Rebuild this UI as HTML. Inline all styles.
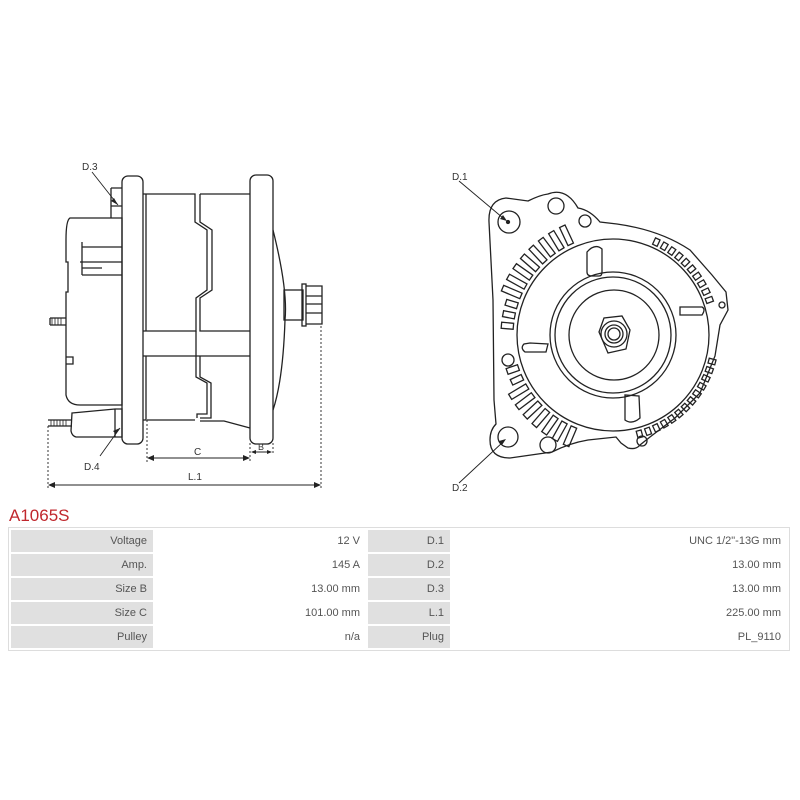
<!DOCTYPE html>
<html><head><meta charset="utf-8"><style>
body{margin:0;width:800px;height:800px;background:#fff;font-family:"Liberation Sans","DejaVu Sans",sans-serif;position:relative;overflow:hidden}
svg{position:absolute;left:0;top:0}
.t{position:absolute;left:9px;top:506px;color:#c0272d;font-size:17px}
table{position:absolute;left:8px;top:527px;width:782px;border-collapse:separate;border-spacing:2px;border:1px solid #ddd;font-size:11px;color:#555}
td{height:22px;padding:0 6px;text-align:right}
td.l{background:#e0e0e0}
td.v{background:#fff}
</style></head><body>
<svg width="800" height="500" viewBox="0 0 800 500" fill="none" stroke="#222" stroke-width="1.3">
<g>
<path d="M70 218 Q66 220 66 240 L66 262 L68 262 L68 292 L66 292 L66 395 Q68 405 80 405 L122 405 L122 218 Z"/>
<path d="M82 247 L122 247 M80 262 L122 262 M82 262 L82 242 M82 275 L122 275 M82 262 L82 275 M82 268 L102 268"/>
<path d="M66 357 L73 357 L73 364 L66 364"/>
<path d="M111 188 L122 188 M111 188 L111 218 M122 206 L111 206"/>
<rect x="122" y="176" width="21" height="268" rx="6"/>
<rect x="250" y="175" width="23" height="269" rx="6"/>
<path d="M143 194 L195 194 L195 222 L207 230 L207 290 L196 298 L196 331 L143 331 M146 194 L146 331"/>
<path d="M200 194 L250 194 M200 194 L200 222 L212 230 L212 290 L200 298 L200 331 L250 331"/>
<path d="M143 356 L250 356 M146 356 L146 420 L143 420 M196 331 L196 377 L207 383 L207 414 L197 414 L197 418 M200 356 L200 377 L211 383 L211 418 L200 418"/>
<path d="M147 420 L195 420 M200 421 L224 421 L250 428"/>
<path d="M273 230 Q288 290 285 320 Q283 380 273 410"/>
<rect x="284" y="290" width="19" height="30"/>
<rect x="302" y="284" width="4" height="42"/>
<path d="M306 286 L322 286 L322 324 L306 324 M306 296 L322 296 M306 304 L322 304 M306 313 L322 313"/>
<path d="M50 318 L66 318 M50 325 L66 325 M50 318 L50 325" />
<path d="M52 318 L52 325 M55 318 L55 325 M58 318 L58 325 M61 318 L61 325" stroke-width="0.8"/>
<path d="M72 413 L115 409 L122 409 L122 437 L76 437 Q72 436 71 431 Z M115 409 L115 437"/>
<path d="M48 420 L72 420 M48 426 L72 426" />
<path d="M51 420 L51 426 M54 420 L54 426 M57 420 L57 426 M60 420 L60 426 M63 420 L63 426 M66 420 L66 426" stroke-width="0.8"/>
<g stroke-dasharray="2 2" stroke-width="0.9">
<path d="M48 426 L48 488 M147 420 L147 462 M250 443 L250 462 M273 443 L273 455 M321 326 L321 488"/>
</g>
<g stroke-width="0.9">
<path d="M50 485 L319 485 M149 458 L248 458 M252 452 L271 452"/>
</g>
<g fill="#222" stroke="none">
<path d="M48 485 L55 482 L55 488Z M321 485 L314 482 L314 488Z M147 458 L154 455 L154 461Z M250 458 L243 455 L243 461Z M251 452 L256 450 L256 454Z M272 452 L267 450 L267 454Z"/>
<path d="M118 205 L114 198 L111 201Z M120 428 L116 434 L113 431Z"/>
</g>
<path d="M92 172 L118 205 M100 456 L120 428" stroke-width="0.9"/>
</g>
<g>
<path d="M489 222 Q488 200 506 198 L528 201 Q540 195 548 194 Q566 187 578 208 Q590 210 600 222 L617 224 Q660 230 690 250 L712 275 L726 292 L728 310 L720 325 L715 356 L700 393 L675 418 L650 437 L640 445 Q636 450 628 448 L621 443 L616 437 L588 440 Q570 443 552 452 L510 458 Q490 458 490 440 Q490 430 496 424 L494 400 L493 300 L489 222Z"/>
<circle cx="509" cy="222" r="11"/><circle cx="508" cy="222" r="1.5" fill="#222"/>
<circle cx="556" cy="206" r="8"/>
<circle cx="585" cy="221" r="6"/>
<circle cx="508" cy="437" r="10"/>
<circle cx="548" cy="445" r="8"/>
<circle cx="508" cy="360" r="6"/>
<circle cx="642" cy="441" r="5"/>
<circle cx="722" cy="305" r="3"/>
<circle cx="613" cy="335" r="96"/>
<circle cx="613" cy="335" r="63"/>
<circle cx="613" cy="335" r="58"/>
<circle cx="614" cy="335" r="45"/>
<path d="M599 332 L604 318 L622 316 L630 330 L626 349 L608 353 Z"/>
<circle cx="614" cy="334" r="13"/><circle cx="614" cy="334" r="9"/><circle cx="614" cy="334" r="6"/>
<path d="M587 252 L587 272 Q587 276 592 276 L599 276 Q602 276 602 272 L602 249 Q595 243 587 252Z"/>
<path d="M680 307 L702 307 Q706 309 702 315 L680 315 Z"/>
<path d="M530 343 L524 344 Q520 348 525 352 L546 352 L548 344Z"/>
<path d="M625 395 L625 420 Q632 425 640 418 L639 396Z"/>
<g id="slots"></g>
<path d="M459 181 L503 218 M459 483 L503 442" stroke-width="0.9"/>
<path d="M507 221 L500 219 L503 215Z M506 439 L499 441 L502 445Z" fill="#222" stroke="none"/>
</g>
<g stroke="none" fill="#333" font-size="10" font-family="Liberation Sans, sans-serif">
<text x="82" y="170">D.3</text>
<text x="84" y="470">D.4</text>
<text x="188" y="480">L.1</text>
<text x="194" y="455">C</text>
<text x="258" y="450" font-size="9">B</text>
<text x="452" y="180">D.1</text>
<text x="452" y="491">D.2</text>
</g>
</svg>
<script>
(function(){var g=document.getElementById('slots'),s='';
function slot(a,r1,r2,w){var c=Math.cos(a),sn=Math.sin(a),px=-sn*w/2,py=c*w/2,cx=613,cy=335;
var x1=cx+c*r1,y1=cy+sn*r1,x2=cx+c*r2,y2=cy+sn*r2;
s+='<path d="M'+(x1+px)+' '+(y1+py)+' L'+(x2+px)+' '+(y2+py)+' L'+(x2-px)+' '+(y2-py)+' L'+(x1-px)+' '+(y1-py)+' Z"/>';}
for(var d=185;d<=245;d+=6){slot(d*Math.PI/180,100,100+(d<200?12:20),6);}
for(var d=113;d<=165;d+=6){slot(d*Math.PI/180,100,100+(d>150?12:20),6);}
for(var d=-65;d<=-18;d+=5){slot(d*Math.PI/180,99,106,5);}
for(var d=15;d<=75;d+=5){slot(d*Math.PI/180,99,106,5);}
g.innerHTML=s;})();
</script>
<div class="t">A1065S</div>
<table>
<tr><td class="l" style="width:130px">Voltage</td><td class="v" style="width:199px">12 V</td><td class="l" style="width:70px">D.1</td><td class="v">UNC 1/2"-13G mm</td></tr>
<tr><td class="l">Amp.</td><td class="v">145 A</td><td class="l">D.2</td><td class="v">13.00 mm</td></tr>
<tr><td class="l">Size B</td><td class="v">13.00 mm</td><td class="l">D.3</td><td class="v">13.00 mm</td></tr>
<tr><td class="l">Size C</td><td class="v">101.00 mm</td><td class="l">L.1</td><td class="v">225.00 mm</td></tr>
<tr><td class="l">Pulley</td><td class="v">n/a</td><td class="l">Plug</td><td class="v">PL_9110</td></tr>
</table>
</body></html>
